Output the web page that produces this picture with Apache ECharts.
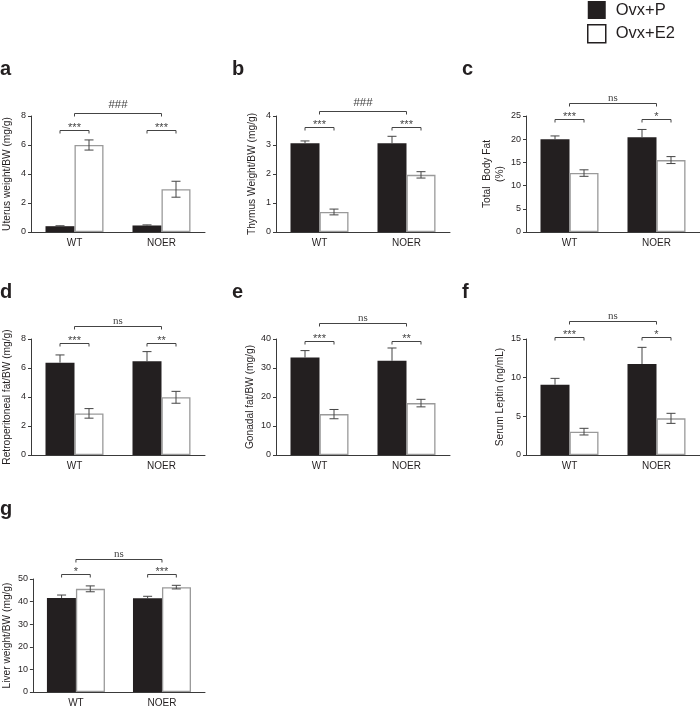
<!DOCTYPE html>
<html><head><meta charset="utf-8">
<script src="https://cdn.jsdelivr.net/npm/echarts@6/dist/echarts.min.js"></script>
<style>html,body{margin:0;padding:0;background:#fff}#c{width:700px;height:708px}</style>
</head><body><div id="c"></div>
<script>
// ---------- data ----------
const categories = ['WT', 'NOER'];
const seriesNames = ['Ovx+P', 'Ovx+E2'];

const uterusP = [0.40, 0.45], uterusPErr = [0.03, 0.04];
const uterusE2 = [6.00, 2.95], uterusE2Err = [0.35, 0.55];
const thymusP = [3.06, 3.06], thymusPErr = [0.08, 0.24];
const thymusE2 = [0.69, 1.97], thymusE2Err = [0.10, 0.11];
const bodyFatP = [20.0, 20.4], bodyFatPErr = [0.7, 1.7];
const bodyFatE2 = [12.7, 15.5], bodyFatE2Err = [0.7, 0.75];
const retroP = [6.37, 6.46], retroPErr = [0.53, 0.67];
const retroE2 = [2.87, 3.98], retroE2Err = [0.33, 0.41];
const gonadalP = [33.6, 32.5], gonadalPErr = [2.4, 4.4];
const gonadalE2 = [14.1, 17.9], gonadalE2Err = [1.6, 1.3];
const leptinP = [9.09, 11.77], leptinPErr = [0.82, 2.15];
const leptinE2 = [3.02, 4.74], leptinE2Err = [0.43, 0.65];
const liverP = [41.6, 41.45], liverPErr = [1.3, 0.9];
const liverE2 = [45.65, 46.4], liverE2Err = [1.3, 0.8];

// significance labels (within group, between groups)
const uterusSig = ['***', '***'], uterusGroupSig = '###';
const thymusSig = ['***', '***'], thymusGroupSig = '###';
const bodyFatSig = ['***', '*'], bodyFatGroupSig = 'ns';
const retroSig = ['***', '**'], retroGroupSig = 'ns';
const gonadalSig = ['***', '**'], gonadalGroupSig = 'ns';
const leptinSig = ['***', '*'], leptinGroupSig = 'ns';
const liverSig = ['*', '***'], liverGroupSig = 'ns';

// y axis ticks (max, step)
const uterusTicks = [8, 2], thymusTicks = [4, 1], bodyFatTicks = [25, 5];
const retroTicks = [8, 2], gonadalTicks = [40, 10], leptinTicks = [15, 5], liverTicks = [50, 10];

const yTitles = ['Uterus weight/BW (mg/g)', 'Thymus Weight/BW (mg/g)', 'Total  Body Fat\n(%)',
  'Retroperitoneal fat/BW (mg/g)', 'Gonadal fat/BW (mg/g)', 'Serum Leptin (ng/mL)', 'Liver weight/BW (mg/g)'];
const letters = ['a', 'b', 'c', 'd', 'e', 'f', 'g'];

// ---------- layout (positions / styles) ----------
const panels = [
  {p: uterusP, pe: uterusPErr, e: uterusE2, ee: uterusE2Err, sig: uterusSig, gsig: uterusGroupSig, ticks: uterusTicks, left: 31, top: 116, lx: 0, ly: 59, gap: 17, inY: 7.03, grpY: 8.2},
  {p: thymusP, pe: thymusPErr, e: thymusE2, ee: thymusE2Err, sig: thymusSig, gsig: thymusGroupSig, ticks: thymusTicks, left: 276, top: 116, lx: 232, ly: 59, gap: 17, inY: 3.63, grpY: 4.18},
  {p: bodyFatP, pe: bodyFatPErr, e: bodyFatE2, ee: bodyFatE2Err, sig: bodyFatSig, gsig: bodyFatGroupSig, ticks: bodyFatTicks, left: 526, top: 116, lx: 462, ly: 59, gap: 15, inY: 24.35, grpY: 27.9},
  {p: retroP, pe: retroPErr, e: retroE2, ee: retroE2Err, sig: retroSig, gsig: retroGroupSig, ticks: retroTicks, left: 31, top: 339, lx: 0, ly: 282, gap: 17, inY: 7.75, grpY: 8.92},
  {p: gonadalP, pe: gonadalPErr, e: gonadalE2, ee: gonadalE2Err, sig: gonadalSig, gsig: gonadalGroupSig, ticks: gonadalTicks, left: 276, top: 339, lx: 232, ly: 282, gap: 17, inY: 39.4, grpY: 45.4},
  {p: leptinP, pe: leptinPErr, e: leptinE2, ee: leptinE2Err, sig: leptinSig, gsig: leptinGroupSig, ticks: leptinTicks, left: 526, top: 339, lx: 462, ly: 282, gap: 17, inY: 15.2, grpY: 17.3},
  {p: liverP, pe: liverPErr, e: liverE2, ee: liverE2Err, sig: liverSig, gsig: liverGroupSig, ticks: liverTicks, left: 31, top: 579, lx: 0, ly: 499, gap: 17, inY: 52.0, grpY: 58.9}
];

const FONT = 'Liberation Sans, Arial, sans-serif';
const INK = '#231f20';
const LINE = '#3a3a3a';

// side: -1 = left bar (black, upper whisker only), +1 = right bar (white, both whiskers)
function errRender(side) {
  return function (params, api) {
    const ci = api.value(0), v = api.value(1), err = api.value(2);
    const band = api.size([1, 0])[0];
    const x = api.coord([ci, v])[0] + side * band / 6;
    const hi = api.coord([ci, v + err])[1];
    const mid = api.coord([ci, v])[1];
    const lo = api.coord([ci, v - err])[1];
    const cap = 4.5;
    const st = {stroke: '#444', lineWidth: 1};
    const children = [
      {type: 'line', shape: {x1: x, y1: hi, x2: x, y2: side < 0 ? mid : lo}, style: st},
      {type: 'line', shape: {x1: x - cap, y1: hi, x2: x + cap, y2: hi}, style: st}
    ];
    if (side > 0) children.push({type: 'line', shape: {x1: x - cap, y1: lo, x2: x + cap, y2: lo}, style: st});
    return {type: 'group', children: children};
  };
}

function labelStyle(label) {
  if (label === 'ns') return {off: 5, font: 'Liberation Serif, Times New Roman, serif', size: 11};
  if (label.charAt(0) === '#') return {off: 9, font: FONT, size: 11.5};
  return {off: 3, font: FONT, size: 11};
}

function bracketRender(sig, gsig) {
  return function (params, api) {
    const idx = params.dataIndex;
    const ci = api.value(0), y = api.value(1);
    const band = api.size([1, 0])[0];
    const pt = api.coord([ci, y]);
    let x1, x2, label;
    if (idx < 2) { x1 = pt[0] - band / 6; x2 = pt[0] + band / 6; label = sig[idx]; }
    else { x1 = pt[0]; x2 = api.coord([ci + 1, y])[0]; label = gsig; }
    const yy = Math.round(pt[1]) + 0.5;
    const ls = labelStyle(label);
    return {type: 'group', children: [
      {type: 'polyline', shape: {points: [[x1, yy + 3], [x1, yy], [x2, yy], [x2, yy + 3]]},
        style: {stroke: '#444', lineWidth: 1, fill: null}},
      {type: 'text', x: (x1 + x2) / 2, y: yy - ls.off,
        style: {text: label, fill: '#444', fontSize: ls.size, fontFamily: ls.font, align: 'center', verticalAlign: 'middle'}}
    ]};
  };
}

const grid = [], xAxis = [], yAxis = [], series = [], title = [];
panels.forEach((pn, i) => {
  grid.push({left: pn.left, top: pn.top, width: 174, height: 116, containLabel: false});
  title.push({text: letters[i], left: pn.lx, top: pn.ly, padding: 0,
    textStyle: {fontSize: 20, fontWeight: 'bold', color: INK, fontFamily: FONT}});
  xAxis.push({type: 'category', gridIndex: i, data: categories, boundaryGap: true,
    axisLine: {lineStyle: {color: LINE, width: 1}},
    axisTick: {alignWithLabel: true, length: 3, lineStyle: {color: LINE}},
    axisLabel: {fontSize: 10, color: INK, margin: 6, fontFamily: FONT}, splitLine: {show: false}});
  yAxis.push({type: 'value', gridIndex: i, min: 0, max: pn.ticks[0], interval: pn.ticks[1],
    name: yTitles[i], nameLocation: 'middle', nameGap: pn.gap,
    nameTextStyle: {fontSize: 10.2, color: INK, fontFamily: FONT, lineHeight: 13},
    axisLine: {show: true, lineStyle: {color: LINE, width: 1}},
    axisTick: {show: true, length: 3, lineStyle: {color: LINE}},
    axisLabel: {fontSize: 9, color: INK, margin: 5, fontFamily: FONT}, splitLine: {show: false}});
  series.push({name: seriesNames[0], type: 'bar', xAxisIndex: i, yAxisIndex: i, data: pn.p,
    barWidth: 29, barGap: '0%', itemStyle: {color: INK}});
  series.push({name: seriesNames[1], type: 'bar', xAxisIndex: i, yAxisIndex: i, data: pn.e,
    barWidth: 29, barGap: '0%', itemStyle: {color: '#fff', borderColor: '#9a9a9a', borderWidth: 1.3}});
  series.push({type: 'custom', name: 'errP' + i, xAxisIndex: i, yAxisIndex: i, silent: true, z: 5,
    renderItem: errRender(-1), data: categories.map((c, k) => [k, pn.p[k], pn.pe[k]])});
  series.push({type: 'custom', name: 'errE' + i, xAxisIndex: i, yAxisIndex: i, silent: true, z: 5,
    renderItem: errRender(1), data: categories.map((c, k) => [k, pn.e[k], pn.ee[k]])});
  series.push({type: 'custom', name: 'br' + i, xAxisIndex: i, yAxisIndex: i, silent: true, z: 5, clip: false,
    renderItem: bracketRender(pn.sig, pn.gsig), data: [[0, pn.inY], [1, pn.inY], [0, pn.grpY]]});
});

const chart = echarts.init(document.getElementById('c'), null, {renderer: 'canvas'});
chart.setOption({
  animation: false,
  backgroundColor: '#fff',
  textStyle: {fontFamily: FONT},
  title: title,
  legend: {
    orient: 'vertical', left: 587, top: 1, padding: 0, itemWidth: 18, itemHeight: 18, itemGap: 5,
    icon: 'rect', selectedMode: false,
    textStyle: {fontSize: 16.5, color: INK, fontFamily: FONT, padding: [0, 0, 0, 5]},
    data: [{name: seriesNames[0], itemStyle: {color: INK}},
           {name: seriesNames[1], itemStyle: {color: '#fff', borderColor: INK, borderWidth: 1.5}}]
  },
  grid: grid, xAxis: xAxis, yAxis: yAxis, series: series
});
</script></body></html>
